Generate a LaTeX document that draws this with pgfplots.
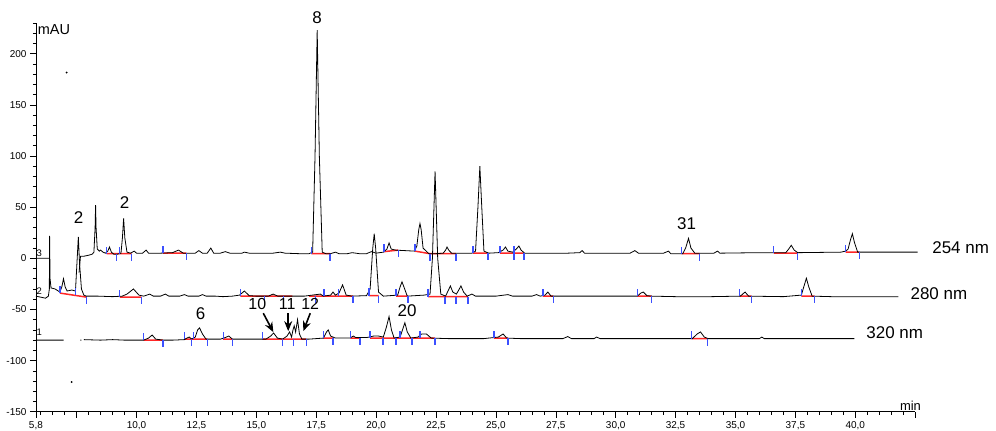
\documentclass[border=0pt]{standalone}
\usepackage{pgfplots}
\pgfplotsset{compat=1.18}
\usepackage{fontspec}
\setmainfont{Liberation Sans}
\usetikzlibrary{arrows.meta}
\definecolor{tickblue}{RGB}{60,80,255}
\begin{document}
\begin{tikzpicture}
\begin{axis}[name=ax, scale only axis, width=880.8pt, height=389.5pt,
  xmin=5.8, xmax=42.5, ymin=-150, ymax=230,
  axis x line*=bottom, axis y line*=left,
  axis line style={-, line width=0.8pt},
  xtick={5.8,7.5,10,12.5,15,17.5,20,22.5,25,27.5,30,32.5,35,37.5,40,42.5},
  xticklabels={{5,8},{},{10,0},{12,5},{15,0},{17,5},{20,0},{22,5},{25,0},{27,5},{30,0},{32,5},{35,0},{37,5},{40,0},{}},
  ytick={-150,-100,-50,0,50,100,150,200},
  yticklabels={-150,-100,-50,0,50,100,150,200},
  minor xtick={6,6.5,7,8,8.5,9,9.5,10.5,11,11.5,12,13,13.5,14,14.5,15.5,16,16.5,17,18,18.5,19,19.5,20.5,21,21.5,22,23,23.5,24,24.5,25.5,26,26.5,27,28,28.5,29,29.5,30.5,31,31.5,32,33,33.5,34,34.5,35.5,36,36.5,37,38,38.5,39,39.5,40.5,41,41.5,42},
  minor ytick={-140,-130,-120,-110,-90,-80,-70,-60,-40,-30,-20,-10,10,20,30,40,60,70,80,90,110,120,130,140,160,170,180,190,210,220,230},
  tick align=outside, major tick length=6pt, minor tick length=3pt,
  tick style={black, line width=0.6pt},
  ticklabel style={font=\fontsize{10}{11}\selectfont},
  clip=false, unbounded coords=jump]

% red integration baselines
\addplot[red!85!white, line width=1.5pt] coordinates {
(8.75,4.5)(9.79,4.5)(9.8,nan)
(11.1,5)(12.08,5)(12.1,nan)
(17.3,4.5)(18.08,4.5)(18.1,nan)
(20.33,6.5)(20.92,8)(20.95,nan)
(21.62,7)(22.25,4.5)(23.33,4.5)(23.4,nan)
(24.04,5)(24.67,5)(24.7,nan)
(25.17,5)(26.17,5)(26.2,nan)
(32.75,4.5)(33.5,4.5)(33.6,nan)
(36.6,5)(37.6,5)(37.7,nan)
(39.6,6)(40.17,6)(40.2,nan)
(6.8,-34)(7.92,-38)(7.95,nan)
(9.3,-38)(10.2,-38)(10.3,nan)
(14.33,-37)(16.5,-37)(16.6,nan)
(17.2,-37)(19.04,-37)(19.1,nan)
(19.7,-36.5)(20.1,-36.5)(20.2,nan)
(20.83,-37)(21.33,-37)(21.4,nan)
(22.17,-37.5)(23.83,-37.5)(23.9,nan)
(26.96,-37)(27.4,-37)(27.5,nan)
(30.9,-37)(31.5,-37)(31.6,nan)
(35.17,-37)(35.67,-37)(35.7,nan)
(37.75,-37)(38.3,-37)(38.4,nan)
(10.3,-80)(11.1,-80)(11.2,nan)
(12.0,-79)(12.96,-79)(13.0,nan)
(13.6,-79)(14.0,-79)(14.1,nan)
(15.25,-79)(17.08,-79)(17.1,nan)
(17.8,-78)(18.2,-78)(18.3,nan)
(18.92,-78)(19.33,-78)(19.4,nan)
(19.75,-78)(22.46,-78)(22.5,nan)
(24.92,-78)(25.5,-78)(25.6,nan)
(33.17,-78.5)(33.83,-78.5)
};

% 254 nm trace
\addplot[black, line width=0.8pt] coordinates {
(5.8,0)(6.36,0)(6.4,nan)
(7.60,-14)(7.66,2)(7.8,2)(8.0,3)(8.15,4)(8.22,6)(8.27,30)(8.29,52)(8.31,30)(8.36,9)(8.45,7)(8.5,8)(8.6,6)(8.7,5)(8.8,7)(8.87,11)(8.95,6)(9.05,4)(9.2,4)(9.35,5)(9.41,20)(9.46,39)(9.51,20)(9.6,6)(9.75,5)(9.9,7)(10.0,5)(10.25,5)(10.4,8)(10.5,5)(10.8,5)(11.0,5)(11.5,5.5)(11.75,8)(11.95,5)(12.2,5)(12.45,5)(12.6,7.5)(12.75,5)(12.95,5)(13.1,10)(13.22,5)(13.5,5)(13.7,6.5)(13.9,5)(14.4,5)(14.5,6)(14.7,5)(15.3,5)(15.7,5)(16.0,6)(16.2,5)(16.8,4.5)(17.2,4.5)(17.35,6)(17.45,100)(17.54,223)(17.63,100)(17.75,6)(17.9,4.5)(18.1,4.5)(18.3,6)(18.45,4.5)(18.8,4.5)(19.0,5.5)(19.3,4.5)(19.6,4.5)(19.8,6.5)(20.0,5)(20.3,6)(20.45,9)(20.54,15)(20.63,9)(20.8,8)(21.2,7.5)(21.6,7)(21.7,12)(21.78,28)(21.83,34)(21.88,28)(21.96,10)(22.2,4.5)(22.5,4.5)(22.8,5)(22.9,8)(22.96,11)(23.03,8)(23.15,5)(23.5,5)(24.0,5)(24.15,7)(24.25,50)(24.33,90)(24.41,50)(24.5,7)(24.7,5)(25.1,5.5)(25.3,8)(25.4,11)(25.5,7)(25.7,6)(25.85,9)(25.96,12)(26.05,8)(26.2,5)(27.0,5)(28.0,5)(28.5,5.5)(28.6,7.5)(28.7,5)(29.5,5)(30.6,5)(30.8,7.5)(30.95,5)(32.0,5)(32.2,7)(32.3,4.5)(32.8,4.5)(32.92,10)(33.04,19.5)(33.14,10)(33.3,5)(34.1,5)(34.25,7)(34.35,5)(36.0,5.5)(37.1,5.5)(37.22,9)(37.33,12.7)(37.45,8)(37.6,5.5)(39.4,6)(39.6,7)(39.7,9)(39.8,18)(39.88,24)(39.96,16)(40.1,6)(41.0,6)(42.6,6)
};

% 280 nm trace
\addplot[black, line width=0.8pt] coordinates {
(5.8,-37)(6.0,-38)(6.2,-39)(6.32,-37)(6.36,-30)(6.37,22)(6.39,-20)(6.43,-29)(6.6,-30)(6.8,-33)(6.88,-28)(6.95,-20)(7.02,-28)(7.1,-32)(7.3,-31)(7.45,-32)(7.5,-10)(7.57,21)(7.62,-5)(7.7,-30)(7.8,-36)(7.9,-37)(8.4,-37)(9.0,-37.5)(9.4,-37)(9.6,-35)(9.87,-30)(10.1,-36)(10.3,-37)(10.55,-35)(10.7,-37)(11.0,-37)(11.2,-35)(11.35,-37)(11.8,-37)(12.0,-35.5)(12.15,-37)(12.6,-37)(12.75,-35.5)(12.9,-37)(13.3,-37)(13.6,-37.5)(14.0,-37)(14.3,-36)(14.5,-32)(14.7,-36.5)(15.0,-37)(15.5,-37)(15.7,-35)(15.9,-37)(16.5,-37)(17.0,-37)(17.67,-35)(17.8,-37)(18.1,-36)(18.2,-33)(18.3,-36)(18.45,-34)(18.6,-26)(18.75,-36)(19.0,-37)(19.6,-36.5)(19.75,-30)(19.86,10)(19.92,24)(19.98,10)(20.1,-33)(20.3,-37)(20.9,-36)(21.0,-28)(21.08,-23)(21.16,-28)(21.3,-37)(22.0,-36)(22.25,-35)(22.35,0)(22.46,85)(22.57,0)(22.7,-35)(22.9,-37)(23.0,-32)(23.1,-27)(23.2,-33)(23.35,-35)(23.45,-31)(23.54,-27)(23.65,-33)(23.8,-37)(24.0,-35)(24.15,-37)(25.0,-37)(25.5,-35.5)(25.7,-37)(26.5,-37)(26.7,-35.5)(26.85,-37)(27.05,-36)(27.17,-33)(27.3,-37)(28.0,-37)(29.0,-37)(30.9,-37)(31.05,-34)(31.15,-33)(31.3,-36.5)(31.5,-37)(32.5,-37.5)(34.0,-37.5)(35.2,-37)(35.4,-33)(35.55,-37)(37.0,-37.5)(37.75,-36)(37.85,-28)(37.96,-19.5)(38.06,-28)(38.2,-37)(39.0,-37.5)(41.8,-37.5)
};

% 320 nm trace
\addplot[black, line width=0.8pt] coordinates {
(5.8,-80)(6.96,-80)(7.0,nan)
(7.65,-80)(7.7,-80)(7.75,nan)
(7.8,-79.5)(8.5,-80)(9.0,-79.5)(9.5,-80)(10.0,-80)(10.3,-80)(10.5,-78)(10.65,-75)(10.8,-79)(11.1,-80)(11.5,-80)(12.0,-79.5)(12.1,-78)(12.2,-77)(12.3,-79)(12.45,-77)(12.55,-70)(12.63,-68)(12.75,-74)(12.9,-79)(13.5,-79)(13.7,-77.5)(13.85,-76)(14.0,-79)(14.5,-79)(15.0,-79)(15.4,-79)(15.6,-76)(15.72,-73)(15.88,-78)(16.1,-79)(16.28,-76)(16.39,-72)(16.47,-77)(16.53,-70)(16.58,-66)(16.64,-72)(16.72,-60)(16.8,-74)(16.9,-79)(17.2,-79)(17.5,-78.5)(17.8,-78)(17.93,-72)(18.0,-70)(18.1,-76)(18.3,-78)(18.9,-78)(19.05,-76)(19.15,-77.5)(19.6,-77.5)(19.9,-76)(20.1,-76)(20.3,-77)(20.42,-68)(20.54,-57)(20.64,-70)(20.75,-78)(21.0,-77)(21.1,-70)(21.2,-63)(21.3,-72)(21.45,-78)(21.75,-77)(21.9,-74)(22.1,-74)(22.3,-78)(23.0,-78.5)(24.5,-78.5)(25.1,-77)(25.3,-74)(25.45,-78)(26.0,-78.5)(27.8,-78.5)(28.0,-76.5)(28.15,-78.5)(29.1,-78.5)(29.2,-77)(29.35,-78.5)(33.2,-78.5)(33.4,-74)(33.54,-72)(33.7,-77)(33.85,-78.5)(36.0,-78.5)(36.1,-77)(36.2,-78.5)(39.96,-78.5)
};

% blue start ticks (baseline upward)
\addplot[tickblue, line width=1.3pt] coordinates {
(8.75,4.5)(8.75,11.5)(8.75,nan)(9.29,4.5)(9.29,11.5)(9.29,nan)(11.1,5)(11.1,12)(11.1,nan)(17.3,4.5)(17.3,11.5)(17.3,nan)(20.33,6.5)(20.33,13.5)(20.33,nan)(21.62,7)(21.62,14)(21.62,nan)(24.04,5)(24.04,12)(24.04,nan)(25.17,5)(25.17,12)(25.17,nan)(25.75,5)(25.75,12)(25.75,nan)(32.75,4.5)(32.75,11.5)(32.75,nan)(36.6,5)(36.6,12)(36.6,nan)(39.6,6)(39.6,13)(39.6,nan)
(6.8,-34)(6.8,-27)(6.8,nan)(7.45,-36)(7.45,-29)(7.45,nan)(9.3,-38)(9.3,-31)(9.3,nan)(14.33,-37)(14.33,-30)(14.33,nan)(17.83,-37)(17.83,-30)(17.83,nan)(18.42,-37)(18.42,-30)(18.42,nan)(19.7,-36.5)(19.7,-29.5)(19.7,nan)(20.83,-37)(20.83,-30)(20.83,nan)(22.17,-37.5)(22.17,-30.5)(22.17,nan)(26.96,-37)(26.96,-30)(26.96,nan)(30.9,-37)(30.9,-30)(30.9,nan)(35.17,-37)(35.17,-30)(35.17,nan)(37.75,-37)(37.75,-30)(37.75,nan)
(10.3,-80)(10.3,-73)(10.3,nan)(12.0,-79)(12.0,-72)(12.0,nan)(12.375,-79)(12.375,-72)(12.375,nan)(13.625,-79)(13.625,-72)(13.625,nan)(15.25,-79)(15.25,-72)(15.25,nan)(17.8,-78)(17.8,-71)(17.8,nan)(18.92,-78)(18.92,-71)(18.92,nan)(19.75,-78)(19.75,-71)(19.75,nan)(21.0,-78)(21.0,-71)(21.0,nan)(21.83,-78)(21.83,-71)(21.83,nan)(24.92,-78)(24.92,-71)(24.92,nan)(33.17,-78.5)(33.17,-71.5)
};
% blue end ticks (baseline downward)
\addplot[tickblue, line width=1.3pt] coordinates {
(9.17,4.5)(9.17,-2.5)(9.17,nan)(9.79,4.5)(9.79,-2.5)(9.79,nan)(12.08,5)(12.08,-2)(12.08,nan)(18.08,4.5)(18.08,-2.5)(18.08,nan)(20.92,8)(20.92,1)(20.92,nan)(22.25,4.5)(22.25,-2.5)(22.25,nan)(23.33,4.5)(23.33,-2.5)(23.33,nan)(24.67,5)(24.67,-2)(24.67,nan)(25.75,5)(25.75,-2)(25.75,nan)(26.17,5)(26.17,-2)(26.17,nan)(33.5,4.5)(33.5,-2.5)(33.5,nan)(37.6,5)(37.6,-2)(37.6,nan)(40.17,6)(40.17,-1)(40.17,nan)
(7.92,-38)(7.92,-45)(7.92,nan)(10.2,-38)(10.2,-45)(10.2,nan)(15.33,-37)(15.33,-44)(15.33,nan)(16.125,-37)(16.125,-44)(16.125,nan)(17.46,-37)(17.46,-44)(17.46,nan)(19.04,-37)(19.04,-44)(19.04,nan)(20.1,-36.5)(20.1,-43.5)(20.1,nan)(21.33,-37)(21.33,-44)(21.33,nan)(22.875,-37.5)(22.875,-44.5)(22.875,nan)(23.33,-37.5)(23.33,-44.5)(23.33,nan)(23.83,-37.5)(23.83,-44.5)(23.83,nan)(27.4,-37)(27.4,-44)(27.4,nan)(31.5,-37)(31.5,-44)(31.5,nan)(35.67,-37)(35.67,-44)(35.67,nan)(38.3,-37)(38.3,-44)(38.3,nan)
(11.1,-80)(11.1,-87)(11.1,nan)(12.29,-79)(12.29,-86)(12.29,nan)(12.96,-79)(12.96,-86)(12.96,nan)(14.0,-79)(14.0,-86)(14.0,nan)(16.08,-79)(16.08,-86)(16.08,nan)(16.54,-79)(16.54,-86)(16.54,nan)(17.08,-79)(17.08,-86)(17.08,nan)(18.2,-78)(18.2,-85)(18.2,nan)(19.33,-78)(19.33,-85)(19.33,nan)(20.29,-78)(20.29,-85)(20.29,nan)(20.83,-78)(20.83,-85)(20.83,nan)(21.5,-78)(21.5,-85)(21.5,nan)(22.46,-78)(22.46,-85)(22.46,nan)(25.5,-78)(25.5,-85)(25.5,nan)(33.83,-78.5)(33.83,-85.5)
};

% stray dots
\addplot[black, only marks, mark=*, mark size=0.7pt] coordinates {(7.08,181.5)(7.29,-121)};

% labels
\node[anchor=south west, font=\fontsize{14.5}{15}\selectfont, inner sep=0pt] at (axis cs:5.87,218.5) {mAU};
\node[anchor=south east, font=\fontsize{13}{14}\selectfont, inner sep=0pt] at (axis cs:42.75,-149) {min};
\begin{scope}[font=\fontsize{9.5}{10}\selectfont, inner sep=0pt]
\node at (axis cs:5.94,5) {3};
\node at (axis cs:5.94,-32) {2};
\node at (axis cs:5.94,-72) {1};
\end{scope}
\begin{scope}[font=\fontsize{17}{18}\selectfont, inner sep=0pt]
\node at (axis cs:7.58,40) {2};
\node at (axis cs:9.5,54.6) {2};
\node at (axis cs:17.54,235) {8};
\node at (axis cs:32.96,34) {31};
\node at (axis cs:12.67,-54.6) {6};
\node at (axis cs:21.29,-50.7) {20};
\node[anchor=west] at (axis cs:43.21,10.7) {254 nm};
\node[anchor=west] at (axis cs:42.3,-35) {280 nm};
\node[anchor=west] at (axis cs:40.46,-73) {320 nm};
\end{scope}
\begin{scope}[font=\fontsize{16}{17}\selectfont, inner sep=0pt]
\node at (axis cs:15.04,-44.9) {10};
\node at (axis cs:16.29,-44.9) {11};
\node at (axis cs:17.25,-44.9) {12};
\end{scope}
\draw[-{Stealth[length=10pt,width=8pt]}, line width=1.6pt] (axis cs:15.29,-53.7) -- (axis cs:15.71,-72.2);
\draw[-{Stealth[length=10pt,width=8pt]}, line width=1.6pt] (axis cs:16.33,-53.7) -- (axis cs:16.33,-71.2);
\draw[-{Stealth[length=10pt,width=8pt]}, line width=1.6pt] (axis cs:17.25,-53.7) -- (axis cs:16.96,-71.2);
\end{axis}
\pgfresetboundingbox
\path ([shift={(-36pt,-19pt)}]ax.south west) rectangle ([shift={(81pt,23pt)}]ax.north east);
\end{tikzpicture}
\end{document}
